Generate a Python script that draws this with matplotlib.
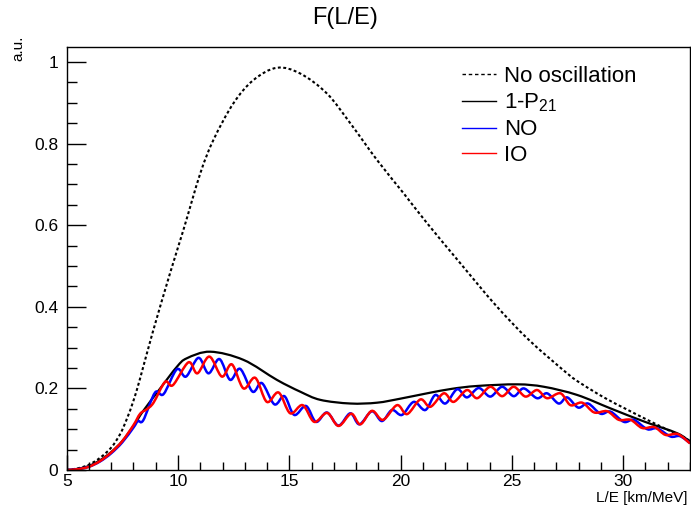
import matplotlib
matplotlib.use("Agg")
import matplotlib.pyplot as plt
import numpy as np
from matplotlib.ticker import MultipleLocator
from matplotlib.path import Path
from matplotlib.patches import PathPatch
from matplotlib.lines import Line2D

plt.rcParams['font.family'] = ['Liberation Sans', 'DejaVu Sans']
plt.rcParams['mathtext.default'] = 'regular'

# ---------------- data ----------------
noosc_x = [5.0, 5.5, 6.0, 6.5, 7.0, 7.4, 7.7, 8.0, 8.3, 8.85, 9.64, 10.24, 11.0, 11.59, 12.49,
           13.39, 14.44, 15.49, 16.69, 17.74, 18.94, 20.14, 21.19, 22.68, 24.27, 25.76,
           27.48, 28.08, 29.13, 30.18, 31.08, 32.13, 33.0]
noosc_y = [0.0, 0.004, 0.013, 0.030, 0.055, 0.088, 0.125, 0.170, 0.225, 0.335, 0.482, 0.588,
           0.727, 0.809, 0.899, 0.956, 0.986, 0.972, 0.923, 0.850, 0.760, 0.678, 0.605, 0.507,
           0.404, 0.319, 0.237, 0.213, 0.178, 0.148, 0.123, 0.095, 0.072]

p21_x = [5.0, 5.5, 6.0, 6.5, 7.0, 7.5, 8.0, 8.44, 9.2, 9.95, 10.4, 11.45, 12.94, 14.44,
         15.49, 16.39, 17.74, 18.94, 20.0, 21.19, 22.3, 23.44, 25.24, 26.44, 27.93,
         29.43, 30.93, 32.43, 33.0]
p21_y = [0.0, 0.003, 0.010, 0.024, 0.044, 0.071, 0.108, 0.145, 0.200, 0.253, 0.274, 0.290,
         0.270, 0.221, 0.192, 0.172, 0.163, 0.165, 0.175, 0.188, 0.199, 0.206, 0.210,
         0.204, 0.184, 0.151, 0.119, 0.090, 0.069]

no_x = [5.0, 5.5, 6.0, 6.5, 7.0, 7.5, 8.0, 8.2, 8.44, 8.97, 9.35, 9.95, 10.36, 10.92,
        11.37, 11.86, 12.34, 12.79, 13.35, 13.77, 14.33, 14.78, 15.22, 15.75, 16.2,
        16.69, 17.21, 17.74, 18.15, 18.71, 19.16, 19.61, 20.06, 20.59, 21.11, 21.56,
        22.01, 22.54, 22.98, 23.51, 24.03, 24.56, 25.08, 25.53, 26.13, 26.58, 27.10,
        27.48, 27.98, 28.42, 28.98, 29.43, 30.03, 30.48, 31.08, 31.53, 32.13, 32.55, 33.0]
no_y = [0.0, 0.002, 0.008, 0.021, 0.041, 0.068, 0.104, 0.120, 0.122, 0.190, 0.186, 0.247,
        0.229, 0.275, 0.237, 0.272, 0.221, 0.248, 0.192, 0.213, 0.161, 0.181, 0.135,
        0.157, 0.118, 0.141, 0.109, 0.139, 0.112, 0.144, 0.120, 0.147, 0.135, 0.167,
        0.147, 0.184, 0.163, 0.198, 0.178, 0.201, 0.180, 0.204, 0.181, 0.200, 0.176,
        0.188, 0.163, 0.178, 0.153, 0.163, 0.138, 0.143, 0.118, 0.123, 0.100, 0.102,
        0.082, 0.083, 0.066]

io_x = [5.0, 5.5, 6.0, 6.5, 7.0, 7.5, 8.0, 8.3, 8.6, 8.9, 9.42, 9.77, 10.47, 10.87,
        11.41, 11.97, 12.42, 12.94, 13.47, 13.99, 14.52, 15.04, 15.6, 16.12, 16.7,
        17.21, 17.78, 18.19, 18.71, 19.21, 19.84, 20.29, 20.89, 21.34, 21.94, 22.38,
        22.98, 23.44, 24.03, 24.56, 25.08, 25.61, 26.13, 26.58, 27.18, 27.63, 28.16,
        28.7, 29.28, 29.8, 30.33, 30.85, 31.4, 31.9, 32.45, 33.0]
io_y = [0.0, 0.002, 0.008, 0.022, 0.043, 0.071, 0.110, 0.138, 0.149, 0.165, 0.216, 0.208,
        0.264, 0.237, 0.278, 0.229, 0.259, 0.200, 0.226, 0.167, 0.190, 0.139, 0.159,
        0.118, 0.140, 0.108, 0.138, 0.112, 0.145, 0.123, 0.159, 0.137, 0.173, 0.155,
        0.188, 0.167, 0.196, 0.176, 0.204, 0.181, 0.204, 0.180, 0.196, 0.176, 0.188,
        0.159, 0.165, 0.141, 0.144, 0.123, 0.123, 0.103, 0.105, 0.086, 0.088, 0.065]

labels = ["No oscillation", "1-P$_{21}$", "NO", "IO"]


def smooth_path(xs, ys):
    """Smooth Bezier path through the given points (Catmull-Rom style tangents)."""
    P = np.column_stack([xs, ys]).astype(float)
    n = len(P)
    verts = [P[0]]
    codes = [Path.MOVETO]
    for i in range(n - 1):
        p0 = P[i - 1] if i > 0 else P[i]
        p1, p2 = P[i], P[i + 1]
        p3 = P[i + 2] if i + 2 < n else P[i + 1]
        c1 = p1 + (p2 - p0) / 6.0
        c2 = p2 - (p3 - p1) / 6.0
        c1[0] = min(max(c1[0], p1[0]), p2[0])
        c2[0] = min(max(c2[0], p1[0]), p2[0])
        verts += [c1, c2, p2]
        codes += [Path.CURVE4] * 3
    return Path(np.array(verts), codes)


# ---------------- figure ----------------
W, H = 691, 513
fig = plt.figure(figsize=(W / 100, H / 100), dpi=100)
ax_left, ax_right, ax_top, ax_bot = 66.7, 690.0, 47.0, 470.0
ax = fig.add_axes([ax_left / W, 1 - ax_bot / H, (ax_right - ax_left) / W, (ax_bot - ax_top) / H])

styles = [
    (noosc_x, noosc_y, dict(color='black', lw=1.5, linestyle=(0, (1.4, 1.2)))),
    (p21_x, p21_y, dict(color='black', lw=1.6, linestyle='-')),
    (no_x, no_y, dict(color='#0000ff', lw=1.8, linestyle='-')),
    (io_x, io_y, dict(color='#ff0000', lw=1.8, linestyle='-')),
]
for xs, ys, st in styles:
    patch = PathPatch(smooth_path(xs, ys), fill=False, edgecolor=st['color'],
                      linewidth=st['lw'], linestyle=st['linestyle'],
                      transform=ax.transData, capstyle='butt', joinstyle='round')
    ax.add_patch(patch)

ax.set_xlim(5, 33)
ax.set_ylim(0, 1.037)

ax.xaxis.set_major_locator(MultipleLocator(5))
ax.xaxis.set_minor_locator(MultipleLocator(1))
ax.yaxis.set_major_locator(MultipleLocator(0.2))
ax.yaxis.set_minor_locator(MultipleLocator(0.05))
ax.tick_params(axis='both', which='both', direction='in', top=False, right=False,
               labelsize=12.5, colors='black')
ax.tick_params(axis='y', which='major', length=14, width=1.0, pad=6)
ax.tick_params(axis='y', which='minor', length=7.5, width=1.0)
ax.tick_params(axis='x', which='major', length=11, width=1.0, pad=3)
ax.tick_params(axis='x', which='minor', length=5.5, width=1.0)
ax.set_xticks([5, 10, 15, 20, 25, 30])
ax.set_xticklabels(['5', '10', '15', '20', '25', '30'])
ax.set_yticks([0, 0.2, 0.4, 0.6, 0.8, 1.0])
ax.set_yticklabels(['0', '0.2', '0.4', '0.6', '0.8', '1'])
for sp in ax.spines.values():
    sp.set_linewidth(1.0)

fig.text(345.5 / W, 1 - 18 / H, "F(L/E)", ha='center', va='center', fontsize=17)
fig.text(688 / W, 1 - 498 / H, "L/E [km/MeV]", ha='right', va='center', fontsize=11)
fig.text(18 / W, 1 - 36 / H, "a.u.", ha='center', va='top', rotation=90, fontsize=11)

handles = [Line2D([], [], color=st['color'], lw=1.0,
                  linestyle=('--' if st['linestyle'] != '-' else '-'))
           for _, _, st in styles]
handles[0].set_dashes([2.5, 2.0])
leg = ax.legend(handles=handles, labels=labels, loc='upper left',
                bbox_to_anchor=((462 - ax_left) / (ax_right - ax_left), 1 - (66 - ax_top) / (ax_bot - ax_top)),
                frameon=False, fontsize=16, handlelength=1.55, handletextpad=0.36,
                labelspacing=0.22, borderaxespad=0, borderpad=0)

fig.savefig("out.png", dpi=100)
